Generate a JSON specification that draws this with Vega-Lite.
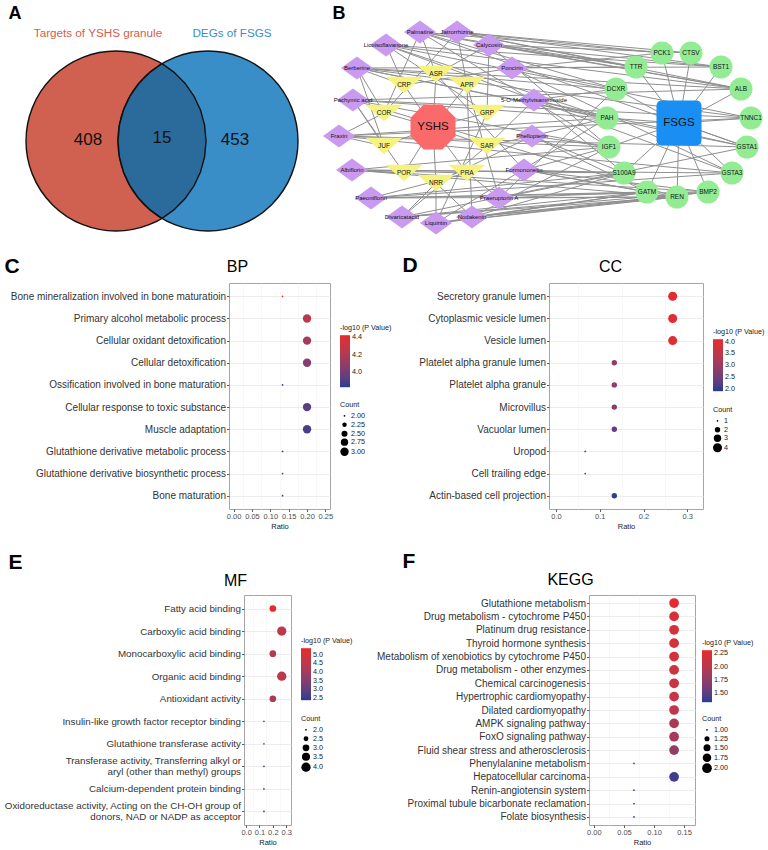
{
"$schema": "https://vega.github.io/schema/vega-lite/v6.json",
"background": "white",
"padding": {"left": 2, "top": 4, "right": 0, "bottom": 0},
"config": {
  "font": "Liberation Sans",
  "view": {"stroke": "#a6a6a6", "strokeWidth": 1},
  "axis": {"domain": false, "tickColor": "#333333", "tickSize": 2.5, "tickWidth": 0.8, "labelColor": "#333333", "gridColor": "#e8e8e8", "gridWidth": 0.8, "titleFontWeight": "normal", "titleColor": "#1a1a1a", "labelFont": "Liberation Sans", "titleFont": "Liberation Sans"},
  "legend": {"titleFontWeight": "normal", "titleFontSize": 7.2, "labelFontSize": 7.2, "titleColor": "#1a1a1a", "labelColor": "#1a1a1a", "titlePadding": 4, "gradientLength": 52, "gradientThickness": 10, "labelOffset": 2, "symbolFillColor": "#000000", "symbolStrokeWidth": 0, "symbolType": "circle", "rowPadding": 1, "direction": "vertical"}
},
"datasets": {
  "nodes": [
    {"id": "Palmatine", "type": "compound", "x": 88, "y": 12},
    {"id": "Jatrorrhizine", "type": "compound", "x": 125, "y": 12},
    {"id": "Licoisoflavanone", "type": "compound", "x": 54, "y": 25},
    {"id": "Calycosin", "type": "compound", "x": 157, "y": 25},
    {"id": "Berberine", "type": "compound", "x": 25, "y": 48},
    {"id": "Poncirin", "type": "compound", "x": 180, "y": 48},
    {"id": "Pachymic acid", "type": "compound", "x": 21, "y": 80},
    {"id": "5-O-Methylvisammioside", "type": "compound", "x": 202, "y": 80},
    {"id": "Fraxin", "type": "compound", "x": 7, "y": 116},
    {"id": "Phellopterin", "type": "compound", "x": 200, "y": 116},
    {"id": "Albiflorin", "type": "compound", "x": 20, "y": 150},
    {"id": "Formononetin", "type": "compound", "x": 192, "y": 150},
    {"id": "Paeoniflorin", "type": "compound", "x": 39, "y": 178},
    {"id": "Praeruptorin A", "type": "compound", "x": 167, "y": 178},
    {"id": "Divaricatacid", "type": "compound", "x": 70, "y": 197},
    {"id": "Liquiritin", "type": "compound", "x": 104, "y": 203},
    {"id": "Nodakenin", "type": "compound", "x": 140, "y": 197},
    {"id": "ASR", "type": "herb", "x": 104, "y": 54},
    {"id": "CRP", "type": "herb", "x": 72, "y": 65},
    {"id": "APR", "type": "herb", "x": 135, "y": 65},
    {"id": "COR", "type": "herb", "x": 52, "y": 93},
    {"id": "GRP", "type": "herb", "x": 155, "y": 93},
    {"id": "JUF", "type": "herb", "x": 52, "y": 126},
    {"id": "SAR", "type": "herb", "x": 155, "y": 126},
    {"id": "POR", "type": "herb", "x": 72, "y": 153},
    {"id": "PRA", "type": "herb", "x": 135, "y": 153},
    {"id": "NRR", "type": "herb", "x": 104, "y": 163},
    {"id": "YSHS", "type": "drug", "x": 101, "y": 107},
    {"id": "FSGS", "type": "disease", "x": 347, "y": 103},
    {"id": "PCK1", "type": "target", "x": 330, "y": 33},
    {"id": "CTSV", "type": "target", "x": 359, "y": 33},
    {"id": "TTR", "type": "target", "x": 304, "y": 47},
    {"id": "BST1", "type": "target", "x": 389, "y": 47},
    {"id": "DCXR", "type": "target", "x": 284, "y": 69},
    {"id": "ALB", "type": "target", "x": 409, "y": 69},
    {"id": "PAH", "type": "target", "x": 275, "y": 98},
    {"id": "TNNC1", "type": "target", "x": 419, "y": 98},
    {"id": "IGF1", "type": "target", "x": 277, "y": 127},
    {"id": "GSTA1", "type": "target", "x": 415, "y": 127},
    {"id": "S100A9", "type": "target", "x": 292, "y": 153},
    {"id": "GSTA3", "type": "target", "x": 400, "y": 153},
    {"id": "GATM", "type": "target", "x": 315, "y": 172},
    {"id": "BMP2", "type": "target", "x": 376, "y": 172},
    {"id": "REN", "type": "target", "x": 345, "y": 177}
  ],
  "edges": [
    {"s": "YSHS", "t": "ASR"}, {"s": "YSHS", "t": "CRP"}, {"s": "YSHS", "t": "APR"}, {"s": "YSHS", "t": "COR"}, {"s": "YSHS", "t": "GRP"},
    {"s": "YSHS", "t": "JUF"}, {"s": "YSHS", "t": "SAR"}, {"s": "YSHS", "t": "POR"}, {"s": "YSHS", "t": "PRA"}, {"s": "YSHS", "t": "NRR"},
    {"s": "COR", "t": "Berberine"}, {"s": "COR", "t": "Palmatine"}, {"s": "COR", "t": "Jatrorrhizine"}, {"s": "COR", "t": "Fraxin"},
    {"s": "CRP", "t": "Poncirin"}, {"s": "CRP", "t": "Berberine"}, {"s": "CRP", "t": "Licoisoflavanone"},
    {"s": "ASR", "t": "Calycosin"}, {"s": "ASR", "t": "Formononetin"}, {"s": "ASR", "t": "Palmatine"},
    {"s": "APR", "t": "Nodakenin"}, {"s": "APR", "t": "Praeruptorin A"}, {"s": "APR", "t": "Jatrorrhizine"},
    {"s": "GRP", "t": "Liquiritin"}, {"s": "GRP", "t": "Licoisoflavanone"}, {"s": "GRP", "t": "Calycosin"},
    {"s": "JUF", "t": "Fraxin"}, {"s": "JUF", "t": "Pachymic acid"}, {"s": "JUF", "t": "Berberine"},
    {"s": "SAR", "t": "5-O-Methylvisammioside"}, {"s": "SAR", "t": "Divaricatacid"}, {"s": "SAR", "t": "Phellopterin"},
    {"s": "POR", "t": "Pachymic acid"}, {"s": "POR", "t": "Albiflorin"},
    {"s": "PRA", "t": "Paeoniflorin"}, {"s": "PRA", "t": "Albiflorin"}, {"s": "PRA", "t": "Praeruptorin A"},
    {"s": "NRR", "t": "Nodakenin"}, {"s": "NRR", "t": "Liquiritin"}, {"s": "NRR", "t": "Divaricatacid"}, {"s": "NRR", "t": "Phellopterin"},
    {"s": "Palmatine", "t": "TTR"}, {"s": "Palmatine", "t": "PCK1"}, {"s": "Palmatine", "t": "ALB"}, {"s": "Palmatine", "t": "GSTA1"}, {"s": "Palmatine", "t": "DCXR"}, {"s": "Palmatine", "t": "IGF1"},
    {"s": "Jatrorrhizine", "t": "PCK1"}, {"s": "Jatrorrhizine", "t": "CTSV"}, {"s": "Jatrorrhizine", "t": "BST1"}, {"s": "Jatrorrhizine", "t": "TTR"}, {"s": "Jatrorrhizine", "t": "ALB"},
    {"s": "Licoisoflavanone", "t": "ALB"}, {"s": "Licoisoflavanone", "t": "TNNC1"}, {"s": "Licoisoflavanone", "t": "PAH"}, {"s": "Licoisoflavanone", "t": "GSTA3"}, {"s": "Licoisoflavanone", "t": "BST1"},
    {"s": "Calycosin", "t": "TTR"}, {"s": "Calycosin", "t": "CTSV"}, {"s": "Calycosin", "t": "BST1"}, {"s": "Calycosin", "t": "ALB"}, {"s": "Calycosin", "t": "IGF1"},
    {"s": "Berberine", "t": "DCXR"}, {"s": "Berberine", "t": "PAH"}, {"s": "Berberine", "t": "ALB"}, {"s": "Berberine", "t": "GSTA1"}, {"s": "Berberine", "t": "TNNC1"}, {"s": "Berberine", "t": "BST1"},
    {"s": "Poncirin", "t": "DCXR"}, {"s": "Poncirin", "t": "TTR"}, {"s": "Poncirin", "t": "PCK1"}, {"s": "Poncirin", "t": "GSTA3"},
    {"s": "Pachymic acid", "t": "PAH"}, {"s": "Pachymic acid", "t": "IGF1"}, {"s": "Pachymic acid", "t": "TNNC1"}, {"s": "Pachymic acid", "t": "ALB"}, {"s": "Pachymic acid", "t": "REN"},
    {"s": "5-O-Methylvisammioside", "t": "PAH"}, {"s": "5-O-Methylvisammioside", "t": "DCXR"}, {"s": "5-O-Methylvisammioside", "t": "S100A9"}, {"s": "5-O-Methylvisammioside", "t": "GSTA1"},
    {"s": "Fraxin", "t": "IGF1"}, {"s": "Fraxin", "t": "PAH"}, {"s": "Fraxin", "t": "GSTA1"}, {"s": "Fraxin", "t": "GSTA3"}, {"s": "Fraxin", "t": "TNNC1"},
    {"s": "Phellopterin", "t": "IGF1"}, {"s": "Phellopterin", "t": "PAH"}, {"s": "Phellopterin", "t": "S100A9"}, {"s": "Phellopterin", "t": "GATM"},
    {"s": "Albiflorin", "t": "IGF1"}, {"s": "Albiflorin", "t": "S100A9"}, {"s": "Albiflorin", "t": "GSTA3"}, {"s": "Albiflorin", "t": "BMP2"}, {"s": "Albiflorin", "t": "REN"},
    {"s": "Formononetin", "t": "S100A9"}, {"s": "Formononetin", "t": "GATM"}, {"s": "Formononetin", "t": "IGF1"}, {"s": "Formononetin", "t": "REN"}, {"s": "Formononetin", "t": "BMP2"},
    {"s": "Paeoniflorin", "t": "S100A9"}, {"s": "Paeoniflorin", "t": "GATM"}, {"s": "Paeoniflorin", "t": "REN"}, {"s": "Paeoniflorin", "t": "BMP2"}, {"s": "Paeoniflorin", "t": "GSTA3"},
    {"s": "Praeruptorin A", "t": "GATM"}, {"s": "Praeruptorin A", "t": "REN"}, {"s": "Praeruptorin A", "t": "S100A9"}, {"s": "Praeruptorin A", "t": "DCXR"},
    {"s": "Divaricatacid", "t": "GATM"}, {"s": "Divaricatacid", "t": "REN"}, {"s": "Divaricatacid", "t": "BMP2"}, {"s": "Divaricatacid", "t": "GSTA1"},
    {"s": "Liquiritin", "t": "GATM"}, {"s": "Liquiritin", "t": "REN"}, {"s": "Liquiritin", "t": "BMP2"}, {"s": "Liquiritin", "t": "PAH"},
    {"s": "Nodakenin", "t": "GATM"}, {"s": "Nodakenin", "t": "REN"}, {"s": "Nodakenin", "t": "BMP2"}, {"s": "Nodakenin", "t": "S100A9"}, {"s": "Nodakenin", "t": "IGF1"},
    {"s": "FSGS", "t": "PCK1"}, {"s": "FSGS", "t": "CTSV"}, {"s": "FSGS", "t": "TTR"}, {"s": "FSGS", "t": "BST1"}, {"s": "FSGS", "t": "DCXR"},
    {"s": "FSGS", "t": "ALB"}, {"s": "FSGS", "t": "PAH"}, {"s": "FSGS", "t": "TNNC1"}, {"s": "FSGS", "t": "IGF1"}, {"s": "FSGS", "t": "GSTA1"},
    {"s": "FSGS", "t": "S100A9"}, {"s": "FSGS", "t": "GSTA3"}, {"s": "FSGS", "t": "GATM"}, {"s": "FSGS", "t": "BMP2"}, {"s": "FSGS", "t": "REN"}
  ],
  "blank": [{"k": 0}]
},
"spacing": 19,
"resolve": {"scale": {"color": "independent", "size": "independent"}},
"vconcat": [
 {
  "spacing": 13,
  "resolve": {"scale": {"color": "independent", "size": "independent"}},
  "vconcat": [
   {
    "spacing": 0,
    "resolve": {"scale": {"color": "independent", "size": "independent"}},
    "hconcat": [
     {"width": 1, "height": 1, "data": {"name": "blank"}, "view": {"stroke": null}, "mark": {"type": "point", "opacity": 0, "size": 0, "strokeWidth": 0}, "encoding": {}},
     {
      "spacing": 22,
      "resolve": {"scale": {"color": "independent", "size": "independent"}},
      "hconcat": [
       {
        "width": 297, "height": 220,
        "view": {"stroke": null},
        "layer": [
         {
          "data": {"values": [{"set": "Targets of YSHS granule", "cx": -0.46, "cy": 0}, {"set": "DEGs of FSGS", "cx": 0.46, "cy": 0}]},
          "mark": {"type": "point", "shape": "circle", "size": 32400, "filled": true, "opacity": 1, "stroke": "#111111", "strokeWidth": 1.4},
          "encoding": {
           "x": {"field": "cx", "type": "quantitative", "scale": {"domain": [-1.59, 1.38], "nice": false, "zero": false}, "axis": null},
           "y": {"field": "cy", "type": "quantitative", "scale": {"domain": [-0.99, 1.21], "nice": false, "zero": false},
                 "axis": {"title": "A", "labels": false, "ticks": false, "domain": false, "grid": false, "titleAngle": 0, "titleAlign": "left", "titleBaseline": "alphabetic", "titleX": 5, "titleY": -2, "titleFontSize": 18, "titleFontWeight": "bold", "titleColor": "#000000"}},
           "color": {"field": "set", "type": "nominal", "scale": {"domain": ["Targets of YSHS granule", "DEGs of FSGS"], "range": ["#d0604f", "#3a8ec8"]}, "legend": null}
          }
         },
         {
          "data": {"values": [{"region": "overlap", "cx": 0, "cy": 0}]},
          "mark": {"type": "point", "shape": "M0,-0.774L-0.1185,-0.6894L-0.2294,-0.5785L-0.3194,-0.45L-0.3857,-0.3078L-0.4263,-0.1563L-0.44,0L-0.4263,0.1563L-0.3857,0.3078L-0.3194,0.45L-0.2294,0.5785L-0.1185,0.6894L0,0.774L0.1185,0.6894L0.2294,0.5785L0.3194,0.45L0.3857,0.3078L0.4263,0.1563L0.44,0L0.4263,-0.1563L0.3857,-0.3078L0.3194,-0.45L0.2294,-0.5785L0.1185,-0.6894Z", "size": 40000, "filled": true, "opacity": 1, "fill": "#2b6b9c", "stroke": "#111111", "strokeWidth": 1.4},
          "encoding": {"x": {"field": "cx", "type": "quantitative"}, "y": {"field": "cy", "type": "quantitative"}}
         },
         {
          "data": {"values": [{"n": 408, "cx": -0.74, "cy": 0.01}, {"n": 15, "cx": 0, "cy": 0.03}, {"n": 453, "cx": 0.73, "cy": 0.01}]},
          "mark": {"type": "text", "fontSize": 17, "color": "#111111", "baseline": "middle"},
          "encoding": {"x": {"field": "cx", "type": "quantitative"}, "y": {"field": "cy", "type": "quantitative"}, "text": {"field": "n"}}
         },
         {
          "data": {"values": [{"set": "Targets of YSHS granule", "cx": -0.64, "cy": 1.08}, {"set": "DEGs of FSGS", "cx": 0.70, "cy": 1.08}]},
          "mark": {"type": "text", "fontSize": 11.7, "baseline": "middle"},
          "encoding": {"x": {"field": "cx", "type": "quantitative"}, "y": {"field": "cy", "type": "quantitative"}, "text": {"field": "set"}, "color": {"field": "set", "type": "nominal", "legend": null}}
         }
        ]
       },
       {
        "width": 435, "height": 220,
        "view": {"stroke": null},
        "layer": [
         {
          "data": {"name": "edges"},
          "transform": [
           {"lookup": "s", "from": {"data": {"name": "nodes"}, "key": "id", "fields": ["x", "y"]}, "as": ["x1", "y1"]},
           {"lookup": "t", "from": {"data": {"name": "nodes"}, "key": "id", "fields": ["x", "y"]}, "as": ["x2", "y2"]}
          ],
          "mark": {"type": "rule", "color": "#8f8f8f", "strokeWidth": 1},
          "encoding": {
           "x": {"field": "x1", "type": "quantitative", "scale": {"domain": [0, 435], "nice": false, "zero": false}, "axis": null},
           "y": {"field": "y1", "type": "quantitative", "scale": {"domain": [0, 220], "nice": false, "zero": false, "reverse": true},
                 "axis": {"title": "B", "labels": false, "ticks": false, "domain": false, "grid": false, "titleAngle": 0, "titleAlign": "left", "titleBaseline": "alphabetic", "titleX": 0, "titleY": -2, "titleFontSize": 18, "titleFontWeight": "bold", "titleColor": "#000000"}},
           "x2": {"field": "x2"}, "y2": {"field": "y2"}
          }
         },
         {
          "data": {"name": "nodes"}, "transform": [{"filter": "datum.type == 'compound'"}],
          "mark": {"type": "point", "shape": "M0,-0.72L1,0L0,0.72L-1,0Z", "size": 1024, "filled": true, "opacity": 1, "color": "#c99af0"},
          "encoding": {"x": {"field": "x", "type": "quantitative"}, "y": {"field": "y", "type": "quantitative"}}
         },
         {
          "data": {"name": "nodes"}, "transform": [{"filter": "datum.type == 'herb'"}],
          "mark": {"type": "point", "shape": "M-1,-0.45L1,-0.45L0,0.45Z", "size": 1369, "filled": true, "opacity": 1, "color": "#f6f282"},
          "encoding": {"x": {"field": "x", "type": "quantitative"}, "y": {"field": "y", "type": "quantitative"}}
         },
         {
          "data": {"name": "nodes"}, "transform": [{"filter": "datum.type == 'target'"}],
          "mark": {"type": "point", "shape": "circle", "size": 529, "filled": true, "opacity": 1, "color": "#93ec93"},
          "encoding": {"x": {"field": "x", "type": "quantitative"}, "y": {"field": "y", "type": "quantitative"}}
         },
         {
          "data": {"name": "nodes"}, "transform": [{"filter": "datum.type == 'drug'"}],
          "mark": {"type": "point", "shape": "M-0.414,-1L0.414,-1L1,-0.414L1,0.414L0.414,1L-0.414,1L-1,0.414L-1,-0.414Z", "size": 2025, "filled": true, "opacity": 1, "color": "#fb6a6a"},
          "encoding": {"x": {"field": "x", "type": "quantitative"}, "y": {"field": "y", "type": "quantitative"}}
         },
         {
          "data": {"name": "nodes"}, "transform": [{"filter": "datum.type == 'disease'"}],
          "mark": {"type": "point", "shape": "M-0.8,-1L0.8,-1L0.94,-0.94L1,-0.8L1,0.8L0.94,0.94L0.8,1L-0.8,1L-0.94,0.94L-1,0.8L-1,-0.8L-0.94,-0.94Z", "size": 2025, "filled": true, "opacity": 1, "color": "#1a8ff3"},
          "encoding": {"x": {"field": "x", "type": "quantitative"}, "y": {"field": "y", "type": "quantitative"}}
         },
         {
          "data": {"name": "nodes"}, "transform": [{"filter": "datum.type == 'compound'"}],
          "mark": {"type": "text", "fontSize": 6, "color": "#111111", "baseline": "middle"},
          "encoding": {"x": {"field": "x", "type": "quantitative"}, "y": {"field": "y", "type": "quantitative"}, "text": {"field": "id"}}
         },
         {
          "data": {"name": "nodes"}, "transform": [{"filter": "datum.type == 'herb' || datum.type == 'target'"}],
          "mark": {"type": "text", "fontSize": 6.5, "color": "#111111", "baseline": "middle"},
          "encoding": {"x": {"field": "x", "type": "quantitative"}, "y": {"field": "y", "type": "quantitative"}, "text": {"field": "id"}}
         },
         {
          "data": {"name": "nodes"}, "transform": [{"filter": "datum.type == 'drug' || datum.type == 'disease'"}],
          "mark": {"type": "text", "fontSize": 11.5, "color": "#111111", "baseline": "middle"},
          "encoding": {"x": {"field": "x", "type": "quantitative"}, "y": {"field": "y", "type": "quantitative"}, "text": {"field": "id"}}
         }
        ]
       }
      ]
     }
    ]
   },
   {
    "spacing": 0,
    "resolve": {"scale": {"color": "independent", "size": "independent"}},
    "hconcat": [
     {"width": 1, "height": 1, "data": {"name": "blank"}, "view": {"stroke": null}, "mark": {"type": "point", "opacity": 0, "size": 0, "strokeWidth": 0}, "encoding": {}},
     {
      "spacing": 8,
      "resolve": {"scale": {"color": "independent", "size": "independent"}},
      "hconcat": [
       {
        "width": 101, "height": 226,
        "data": {"values": [
         {"term": "Bone mineralization involved in bone maturatioin", "ratio": 0.1333, "count": 2, "logp": 4.40},
         {"term": "Primary alcohol metabolic process", "ratio": 0.2, "count": 3, "logp": 4.25},
         {"term": "Cellular oxidant detoxification", "ratio": 0.2, "count": 3, "logp": 4.16},
         {"term": "Cellular detoxification", "ratio": 0.2, "count": 3, "logp": 4.06},
         {"term": "Ossification involved in bone maturation", "ratio": 0.1333, "count": 2, "logp": 3.86},
         {"term": "Cellular response to toxic substance", "ratio": 0.2, "count": 3, "logp": 3.93},
         {"term": "Muscle adaptation", "ratio": 0.2, "count": 3, "logp": 3.89},
         {"term": "Glutathione derivative metabolic process", "ratio": 0.1333, "count": 2, "logp": 3.86},
         {"term": "Glutathione derivative biosynthetic process", "ratio": 0.1333, "count": 2, "logp": 3.86},
         {"term": "Bone maturation", "ratio": 0.1333, "count": 2, "logp": 3.85}
        ]},
        "resolve": {"axis": {"y": "independent", "x": "independent"}},
        "layer": [
         {
          "mark": {"type": "point", "opacity": 0},
          "encoding": {
           "x": {"field": "ratio", "type": "quantitative", "axis": {"orient": "top", "values": [0.025, 0.075, 0.125, 0.175, 0.225], "labels": false, "ticks": false, "domain": false, "title": null, "grid": true, "gridColor": "#f3f3f3", "gridWidth": 0.6}},
           "y": {"field": "term", "type": "nominal", "sort": null,
                 "axis": {"orient": "right", "title": "BP", "labels": false, "ticks": false, "domain": false, "grid": false, "titleAngle": 0, "titleAlign": "center", "titleBaseline": "alphabetic", "titleX": -93, "titleY": -12, "titleFontSize": 16, "titleFontWeight": "normal", "titleColor": "#000000"}}
          }
         },
         {
          "mark": {"type": "circle", "opacity": 1},
          "encoding": {
           "y": {"field": "term", "type": "nominal", "sort": null, "scale": {"type": "point", "padding": 0.6},
                 "axis": {"orient": "left", "title": "C", "titleAngle": 0, "titleAlign": "left", "titleBaseline": "alphabetic", "titleX": -225, "titleY": -11, "titleFontSize": 21, "titleFontWeight": "bold", "titleColor": "#000000", "labelFontSize": 10, "labelLimit": 0, "labelPadding": 1, "grid": true, "labelOverlap": false}},
           "x": {"field": "ratio", "type": "quantitative", "scale": {"domain": [-0.0125, 0.2625], "nice": false, "zero": false},
                 "axis": {"orient": "bottom", "title": "Ratio", "titleFontSize": 7.5, "titlePadding": 2, "labelFontSize": 7.5, "labelColor": "#4d4d4d", "labelPadding": 1, "labelFlush": false, "labelOverlap": false,
                          "values": [0, 0.05, 0.1, 0.15, 0.2, 0.25], "format": ".2f"}},
           "color": {"field": "logp", "type": "quantitative", "scale": {"domain": [3.83, 4.42], "range": ["#203e93", "#e9292b"], "interpolate": "lab"},
                     "legend": {"title": "-log10 (P Value)", "orient": "none", "legendX": 111, "legendY": 41, "direction": "vertical", "values": [4.0, 4.2, 4.4], "format": ".1f"}},
           "size": {"field": "count", "type": "quantitative", "scale": {"domain": [2, 3], "range": [3, 70]},
                    "legend": {"title": "Count", "orient": "none", "legendX": 111, "legendY": 118, "direction": "vertical", "values": [2, 2.25, 2.5, 2.75, 3], "format": ".2f"}}
          }
         }
        ]
       },
       {
        "width": 154, "height": 226,
        "data": {"values": [
         {"term": "Secretory granule lumen", "ratio": 0.2667, "count": 4, "logp": 4.0},
         {"term": "Cytoplasmic vesicle lumen", "ratio": 0.2667, "count": 4, "logp": 4.0},
         {"term": "Vesicle lumen", "ratio": 0.2667, "count": 4, "logp": 3.95},
         {"term": "Platelet alpha granule lumen", "ratio": 0.1333, "count": 2, "logp": 2.9},
         {"term": "Platelet alpha granule", "ratio": 0.1333, "count": 2, "logp": 2.85},
         {"term": "Microvillus", "ratio": 0.1333, "count": 2, "logp": 2.8},
         {"term": "Vacuolar lumen", "ratio": 0.1333, "count": 2, "logp": 2.4},
         {"term": "Uropod", "ratio": 0.0667, "count": 1, "logp": 2.1},
         {"term": "Cell trailing edge", "ratio": 0.0667, "count": 1, "logp": 2.1},
         {"term": "Actin-based cell projection", "ratio": 0.1333, "count": 2, "logp": 1.98}
        ]},
        "resolve": {"axis": {"y": "independent", "x": "independent"}},
        "layer": [
         {
          "mark": {"type": "point", "opacity": 0},
          "encoding": {
           "x": {"field": "ratio", "type": "quantitative", "axis": {"orient": "top", "values": [0.05, 0.15, 0.25], "labels": false, "ticks": false, "domain": false, "title": null, "grid": true, "gridColor": "#f3f3f3", "gridWidth": 0.6}},
           "y": {"field": "term", "type": "nominal", "sort": null,
                 "axis": {"orient": "right", "title": "CC", "labels": false, "ticks": false, "domain": false, "grid": false, "titleAngle": 0, "titleAlign": "center", "titleBaseline": "alphabetic", "titleX": -93, "titleY": -12, "titleFontSize": 16, "titleFontWeight": "normal", "titleColor": "#000000"}}
          }
         },
         {
          "mark": {"type": "circle", "opacity": 1},
          "encoding": {
           "y": {"field": "term", "type": "nominal", "sort": null, "scale": {"type": "point", "padding": 0.6},
                 "axis": {"orient": "left", "title": "D", "titleAngle": 0, "titleAlign": "left", "titleBaseline": "alphabetic", "titleX": -147, "titleY": -12, "titleFontSize": 21, "titleFontWeight": "bold", "titleColor": "#000000", "labelFontSize": 10, "labelLimit": 0, "labelPadding": 1, "grid": true, "labelOverlap": false}},
           "x": {"field": "ratio", "type": "quantitative", "scale": {"domain": [-0.016, 0.336], "nice": false, "zero": false},
                 "axis": {"orient": "bottom", "title": "Ratio", "titleFontSize": 7.5, "titlePadding": 2, "labelFontSize": 7.5, "labelColor": "#4d4d4d", "labelPadding": 1, "labelFlush": false, "labelOverlap": false,
                          "values": [0, 0.1, 0.2, 0.3], "format": ".1f"}},
           "color": {"field": "logp", "type": "quantitative", "scale": {"domain": [1.9, 4.1], "range": ["#203e93", "#e9292b"], "interpolate": "lab"},
                     "legend": {"title": "-log10 (P Value)", "orient": "none", "legendX": 164, "legendY": 45, "direction": "vertical", "values": [2.0, 2.5, 3.0, 3.5, 4.0], "format": ".1f"}},
           "size": {"field": "count", "type": "quantitative", "scale": {"domain": [1, 4], "range": [3, 81]},
                    "legend": {"title": "Count", "orient": "none", "legendX": 164, "legendY": 123, "direction": "vertical", "values": [1, 2, 3, 4], "format": "d"}}
          }
         }
        ]
       }
      ]
     }
    ]
   }
  ]
 },
 {
  "spacing": 0,
  "resolve": {"scale": {"color": "independent", "size": "independent"}},
  "hconcat": [
   {"width": 1, "height": 1, "data": {"name": "blank"}, "view": {"stroke": null}, "mark": {"type": "point", "opacity": 0, "size": 0, "strokeWidth": 0}, "encoding": {}},
   {
    "spacing": 22,
    "resolve": {"scale": {"color": "independent", "size": "independent"}},
    "hconcat": [
     {
      "width": 47, "height": 230,
      "data": {"values": [
       {"term": "Fatty acid binding", "ratio": 0.2, "count": 3, "logp": 5.3},
       {"term": "Carboxylic acid binding", "ratio": 0.2667, "count": 4, "logp": 4.55},
       {"term": "Monocarboxylic acid binding", "ratio": 0.2, "count": 3, "logp": 4.4},
       {"term": "Organic acid binding", "ratio": 0.2667, "count": 4, "logp": 4.5},
       {"term": "Antioxidant activity", "ratio": 0.2, "count": 3, "logp": 4.3},
       {"term": "Insulin-like growth factor receptor binding", "ratio": 0.1333, "count": 2, "logp": 4.0},
       {"term": "Glutathione transferase activity", "ratio": 0.1333, "count": 2, "logp": 4.0},
       {"term": "Transferase activity, Transferring alkyl or\naryl (other than methyl) groups", "ratio": 0.1333, "count": 2, "logp": 2.6},
       {"term": "Calcium-dependent protein binding", "ratio": 0.1333, "count": 2, "logp": 2.55},
       {"term": "Oxidoreductase activity, Acting on the CH-OH group of\ndonors, NAD or NADP as acceptor", "ratio": 0.1333, "count": 2, "logp": 2.45}
      ]},
      "resolve": {"axis": {"y": "independent", "x": "independent"}},
      "layer": [
       {
        "mark": {"type": "point", "opacity": 0},
        "encoding": {
         "x": {"field": "ratio", "type": "quantitative", "axis": {"orient": "top", "values": [0.05, 0.15, 0.25], "labels": false, "ticks": false, "domain": false, "title": null, "grid": true, "gridColor": "#f3f3f3", "gridWidth": 0.6}},
         "y": {"field": "term", "type": "nominal", "sort": null,
               "axis": {"orient": "right", "title": "MF", "labels": false, "ticks": false, "domain": false, "grid": false, "titleAngle": 0, "titleAlign": "center", "titleBaseline": "alphabetic", "titleX": -56, "titleY": -10, "titleFontSize": 16, "titleFontWeight": "normal", "titleColor": "#000000"}}
        }
       },
       {
        "mark": {"type": "circle", "opacity": 1},
        "encoding": {
         "y": {"field": "term", "type": "nominal", "sort": null, "scale": {"type": "point", "padding": 0.6},
               "axis": {"orient": "left", "title": "E", "titleAngle": 0, "titleAlign": "left", "titleBaseline": "alphabetic", "titleX": -236, "titleY": -27, "titleFontSize": 21, "titleFontWeight": "bold", "titleColor": "#000000", "labelFontSize": 9.8, "labelLimit": 0, "labelPadding": 1, "labelLineHeight": 11, "grid": true, "labelOverlap": false,
                        "labelExpr": "split(datum.label, '\\n')",
                        "labelOffset": {"condition": {"test": "indexof(datum.value, '\\n') >= 0", "value": -5.5}, "value": 0}}},
         "x": {"field": "ratio", "type": "quantitative", "scale": {"domain": [-0.016, 0.336], "nice": false, "zero": false},
               "axis": {"orient": "bottom", "title": "Ratio", "titleFontSize": 7.5, "titlePadding": 2, "labelFontSize": 7.5, "labelColor": "#4d4d4d", "labelPadding": 1, "labelFlush": false, "labelOverlap": false,
                        "values": [0, 0.1, 0.2, 0.3], "format": ".1f"}},
         "color": {"field": "logp", "type": "quantitative", "scale": {"domain": [2.37, 5.38], "range": ["#203e93", "#e9292b"], "interpolate": "lab"},
                   "legend": {"title": "-log10 (P Value)", "orient": "none", "legendX": 57, "legendY": 42, "direction": "vertical", "values": [2.5, 3.0, 3.5, 4.0, 4.5, 5.0], "format": ".1f"}},
         "size": {"field": "count", "type": "quantitative", "scale": {"domain": [2, 4], "range": [3, 86]},
                  "legend": {"title": "Count", "orient": "none", "legendX": 57, "legendY": 120, "direction": "vertical", "values": [2, 2.5, 3, 3.5, 4], "format": ".1f"}}
        }
       }
      ]
     },
     {
      "width": 106, "height": 230,
      "data": {"values": [
       {"term": "Glutathione metabolism", "ratio": 0.1333, "count": 2, "logp": 2.28},
       {"term": "Drug metabolism - cytochrome P450", "ratio": 0.1333, "count": 2, "logp": 2.2},
       {"term": "Platinum drug resistance", "ratio": 0.1333, "count": 2, "logp": 2.18},
       {"term": "Thyroid hormone synthesis", "ratio": 0.1333, "count": 2, "logp": 2.17},
       {"term": "Metabolism of xenobiotics by cytochrome P450", "ratio": 0.1333, "count": 2, "logp": 2.15},
       {"term": "Drug metabolism - other enzymes", "ratio": 0.1333, "count": 2, "logp": 2.13},
       {"term": "Chemical carcinogenesis", "ratio": 0.1333, "count": 2, "logp": 2.1},
       {"term": "Hypertrophic cardiomyopathy", "ratio": 0.1333, "count": 2, "logp": 2.08},
       {"term": "Dilated cardiomyopathy", "ratio": 0.1333, "count": 2, "logp": 2.04},
       {"term": "AMPK signaling pathway", "ratio": 0.1333, "count": 2, "logp": 1.92},
       {"term": "FoxO signaling pathway", "ratio": 0.1333, "count": 2, "logp": 1.88},
       {"term": "Fluid shear stress and atherosclerosis", "ratio": 0.1333, "count": 2, "logp": 1.78},
       {"term": "Phenylalanine metabolism", "ratio": 0.0667, "count": 1, "logp": 1.38},
       {"term": "Hepatocellular carcinoma", "ratio": 0.1333, "count": 2, "logp": 1.4},
       {"term": "Renin-angiotensin system", "ratio": 0.0667, "count": 1, "logp": 1.38},
       {"term": "Proximal tubule bicarbonate reclamation", "ratio": 0.0667, "count": 1, "logp": 1.38},
       {"term": "Folate biosynthesis", "ratio": 0.0667, "count": 1, "logp": 1.37}
      ]},
      "resolve": {"axis": {"y": "independent", "x": "independent"}},
      "layer": [
       {
        "mark": {"type": "point", "opacity": 0},
        "encoding": {
         "x": {"field": "ratio", "type": "quantitative", "axis": {"orient": "top", "values": [0.025, 0.075, 0.125], "labels": false, "ticks": false, "domain": false, "title": null, "grid": true, "gridColor": "#f3f3f3", "gridWidth": 0.6}},
         "y": {"field": "term", "type": "nominal", "sort": null,
               "axis": {"orient": "right", "title": "KEGG", "labels": false, "ticks": false, "domain": false, "grid": false, "titleAngle": 0, "titleAlign": "center", "titleBaseline": "alphabetic", "titleX": -125, "titleY": -11, "titleFontSize": 16, "titleFontWeight": "normal", "titleColor": "#000000"}}
        }
       },
       {
        "mark": {"type": "circle", "opacity": 1},
        "encoding": {
         "y": {"field": "term", "type": "nominal", "sort": null, "scale": {"type": "point", "padding": 0.6},
               "axis": {"orient": "left", "title": "F", "titleAngle": 0, "titleAlign": "left", "titleBaseline": "alphabetic", "titleX": -187, "titleY": -28, "titleFontSize": 21, "titleFontWeight": "bold", "titleColor": "#000000", "labelFontSize": 10, "labelLimit": 0, "labelPadding": 1, "grid": true, "labelOverlap": false}},
         "x": {"field": "ratio", "type": "quantitative", "scale": {"domain": [-0.008, 0.168], "nice": false, "zero": false},
               "axis": {"orient": "bottom", "title": "Ratio", "titleFontSize": 7.5, "titlePadding": 2, "labelFontSize": 7.5, "labelColor": "#4d4d4d", "labelPadding": 1, "labelFlush": false, "labelOverlap": false,
                        "values": [0, 0.05, 0.1, 0.15], "format": ".2f"}},
         "color": {"field": "logp", "type": "quantitative", "scale": {"domain": [1.33, 2.31], "range": ["#203e93", "#e9292b"], "interpolate": "lab"},
                   "legend": {"title": "-log10 (P Value)", "orient": "none", "legendX": 113, "legendY": 44, "direction": "vertical", "values": [1.5, 1.75, 2.0, 2.25], "format": ".2f"}},
         "size": {"field": "count", "type": "quantitative", "scale": {"domain": [1, 2], "range": [3, 95]},
                  "legend": {"title": "Count", "orient": "none", "legendX": 113, "legendY": 120, "direction": "vertical", "values": [1, 1.25, 1.5, 1.75, 2], "format": ".2f"}}
        }
       }
      ]
     }
    ]
   }
  ]
 }
]
}
